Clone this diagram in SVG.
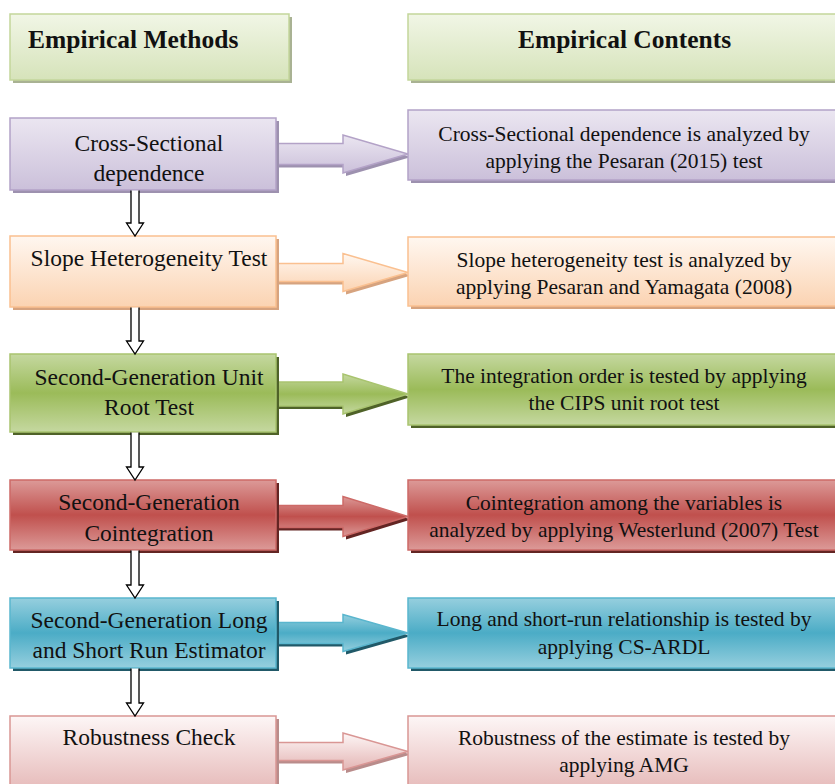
<svg xmlns="http://www.w3.org/2000/svg" width="835" height="784" viewBox="0 0 835 784">
  <defs>
    <linearGradient id="gHead" x1="0" y1="0" x2="0" y2="1">
      <stop offset="0" stop-color="#f1f6e6"/>
      <stop offset="1" stop-color="#d6e3ba"/>
    </linearGradient>
    <linearGradient id="gPur" x1="0" y1="0" x2="0" y2="1">
      <stop offset="0" stop-color="#ebe6f1"/>
      <stop offset="1" stop-color="#cbc0da"/>
    </linearGradient>
    <linearGradient id="gOra" x1="0" y1="0" x2="0" y2="1">
      <stop offset="0" stop-color="#fff7f0"/>
      <stop offset="1" stop-color="#fbd3b2"/>
    </linearGradient>
    <linearGradient id="gGrn" x1="0" y1="0" x2="0" y2="1">
      <stop offset="0" stop-color="#c5d8a0"/>
      <stop offset="0.5" stop-color="#9bbb59"/>
      <stop offset="1" stop-color="#c5d8a0"/>
    </linearGradient>
    <linearGradient id="gRed" x1="0" y1="0" x2="0" y2="1">
      <stop offset="0" stop-color="#dc9a98"/>
      <stop offset="0.5" stop-color="#c0504d"/>
      <stop offset="1" stop-color="#dc9a98"/>
    </linearGradient>
    <linearGradient id="gBlu" x1="0" y1="0" x2="0" y2="1">
      <stop offset="0" stop-color="#96cfde"/>
      <stop offset="0.5" stop-color="#4bacc6"/>
      <stop offset="1" stop-color="#96cfde"/>
    </linearGradient>
    <linearGradient id="gPnk" x1="0" y1="0" x2="0" y2="1">
      <stop offset="0" stop-color="#fdf6f6"/>
      <stop offset="1" stop-color="#e4b5b4"/>
    </linearGradient>
  </defs>
  <style>
    .t { font-family: "Liberation Serif", "Times New Roman", serif; fill: #111; }
    .l { font-size: 23.5px; text-anchor: middle; }
    .r { font-size: 21.5px; text-anchor: middle; }
    .h { font-size: 25.5px; font-weight: bold; }
    .head { fill: url(#gHead); stroke: #c3d69b; stroke-width: 1.5; }
    .headS { fill: #a9b293; }
    .pur { fill: url(#gPur); stroke: #b3a2c7; stroke-width: 1.5; }
    .purS { fill: #9d91af; }
    .ora { fill: url(#gOra); stroke: #fac090; stroke-width: 1.5; }
    .oraS { fill: #d6a37f; }
    .grn { fill: url(#gGrn); stroke: #a9c46f; stroke-width: 1.5; }
    .grnS { fill: #4f6228; }
    .red { fill: url(#gRed); stroke: #cd6a67; stroke-width: 1.5; }
    .redS { fill: #632523; }
    .blu { fill: url(#gBlu); stroke: #5ab6ce; stroke-width: 1.5; }
    .bluS { fill: #215968; }
    .pnk { fill: url(#gPnk); stroke: #d99694; stroke-width: 1.5; }
    .pnkS { fill: #b98c8b; }
    .down { fill: #ffffff; stroke: #000; stroke-width: 1.3; stroke-linejoin: miter; }
  </style>

  <!-- Horizontal connectors (drawn beneath boxes) -->
  <g id="h-connectors">
    <path class="purS" d="M277,146.5 L346,146.5 L346,138 L411,157 L346,176 L346,167.5 L277,167.5 Z"/>
    <path class="pur" d="M276,143.5 L343,143.5 L343,135 L408,154 L343,173 L343,164.5 L276,164.5 Z"/>

    <path class="oraS" d="M277,266.5 L346,266.5 L346,256.5 L411,275.5 L346,294.5 L346,284.5 L277,284.5 Z"/>
    <path class="ora" d="M276,263.5 L343,263.5 L343,253.5 L408,272.5 L343,291.5 L343,281.5 L276,281.5 Z"/>

    <path class="grnS" d="M277,385 L346,385 L346,377 L411,397 L346,417 L346,409 L277,409 Z"/>
    <path class="grn" d="M276,382 L343,382 L343,374 L408,394 L343,414 L343,406 L276,406 Z"/>

    <path class="redS" d="M277,508.5 L346,508.5 L346,499.5 L411,519.5 L346,539.5 L346,530.5 L277,530.5 Z"/>
    <path class="red" d="M276,505.5 L343,505.5 L343,496.5 L408,516.5 L343,536.5 L343,527.5 L276,527.5 Z"/>

    <path class="bluS" d="M277,625.5 L346,625.5 L346,617.5 L411,636 L346,654.5 L346,646.5 L277,646.5 Z"/>
    <path class="blu" d="M276,622.5 L343,622.5 L343,614.5 L408,633 L343,651.5 L343,643.5 L276,643.5 Z"/>

    <path class="pnkS" d="M277,745.5 L346,745.5 L346,736 L411,754.5 L346,773 L346,763.5 L277,763.5 Z"/>
    <path class="pnk" d="M276,742.5 L343,742.5 L343,733 L408,751.5 L343,770 L343,760.5 L276,760.5 Z"/>
  </g>

  <!-- Headers -->
  <g id="header-methods">
    <rect class="headS" x="13" y="17" width="279" height="66"/>
    <rect class="head" x="10" y="14" width="279" height="66"/>
    <text class="t h" x="28" y="48">Empirical Methods</text>
  </g>
  <g id="header-contents">
    <rect class="headS" x="411" y="17" width="440" height="66"/>
    <rect class="head" x="408" y="14" width="440" height="66"/>
    <text class="t h" x="624.5" y="48" text-anchor="middle">Empirical Contents</text>
  </g>

  <!-- Left nodes -->
  <g id="m1">
    <rect class="purS" x="13" y="121" width="266" height="72"/>
    <rect class="pur" x="10" y="118" width="266" height="72"/>
    <text class="t l" x="149" y="151">Cross-Sectional</text>
    <text class="t l" x="149" y="181">dependence</text>
  </g>
  <g id="m2">
    <rect class="oraS" x="13" y="239" width="266" height="71"/>
    <rect class="ora" x="10" y="236" width="266" height="71"/>
    <text class="t l" x="149" y="266">Slope Heterogeneity Test</text>
  </g>
  <g id="m3">
    <rect class="grnS" x="13" y="357" width="266" height="78"/>
    <rect class="grn" x="10" y="354" width="266" height="78"/>
    <text class="t l" x="149" y="385">Second-Generation Unit</text>
    <text class="t l" x="149" y="415">Root Test</text>
  </g>
  <g id="m4">
    <rect class="redS" x="13" y="483" width="266" height="70"/>
    <rect class="red" x="10" y="480" width="266" height="70"/>
    <text class="t l" x="149" y="510">Second-Generation</text>
    <text class="t l" x="149" y="541">Cointegration</text>
  </g>
  <g id="m5">
    <rect class="bluS" x="13" y="601" width="266" height="70"/>
    <rect class="blu" x="10" y="598" width="266" height="70"/>
    <text class="t l" x="149" y="628">Second-Generation Long</text>
    <text class="t l" x="149" y="658">and Short Run Estimator</text>
  </g>
  <g id="m6">
    <rect class="pnkS" x="13" y="719" width="266" height="80"/>
    <rect class="pnk" x="10" y="716" width="266" height="80"/>
    <text class="t l" x="149" y="745">Robustness Check</text>
  </g>

  <!-- Right nodes -->
  <g id="c1">
    <rect class="purS" x="411" y="113" width="440" height="70"/>
    <rect class="pur" x="408" y="110" width="440" height="70"/>
    <text class="t r" x="624" y="141">Cross-Sectional dependence is analyzed by</text>
    <text class="t r" x="624" y="168">applying the Pesaran (2015) test</text>
  </g>
  <g id="c2">
    <rect class="oraS" x="411" y="240" width="440" height="69"/>
    <rect class="ora" x="408" y="237" width="440" height="69"/>
    <text class="t r" x="624" y="267">Slope heterogeneity test is analyzed by</text>
    <text class="t r" x="624" y="294">applying Pesaran and Yamagata (2008)</text>
  </g>
  <g id="c3">
    <rect class="grnS" x="411" y="357" width="440" height="71"/>
    <rect class="grn" x="408" y="354" width="440" height="71"/>
    <text class="t r" x="624" y="383">The integration order is tested by applying</text>
    <text class="t r" x="624" y="410">the CIPS unit root test</text>
  </g>
  <g id="c4">
    <rect class="redS" x="411" y="483" width="440" height="70"/>
    <rect class="red" x="408" y="480" width="440" height="70"/>
    <text class="t r" x="624" y="510">Cointegration among the variables is</text>
    <text class="t r" x="624" y="537">analyzed by applying Westerlund (2007) Test</text>
  </g>
  <g id="c5">
    <rect class="bluS" x="411" y="601" width="440" height="70"/>
    <rect class="blu" x="408" y="598" width="440" height="70"/>
    <text class="t r" x="624" y="626">Long and short-run relationship is tested by</text>
    <text class="t r" x="624" y="654">applying CS-ARDL</text>
  </g>
  <g id="c6">
    <rect class="pnkS" x="411" y="719" width="440" height="80"/>
    <rect class="pnk" x="408" y="716" width="440" height="80"/>
    <text class="t r" x="624" y="745">Robustness of the estimate is tested by</text>
    <text class="t r" x="624" y="772">applying AMG</text>
  </g>

  <!-- Vertical connectors -->
  <g id="v-connectors">
    <path class="down" d="M131,190.5 L131,223 L126.5,223 L135,236 L143.5,223 L139,223 L139,190.5"/>
    <path class="down" d="M131,307.5 L131,341 L126.5,341 L135,354 L143.5,341 L139,341 L139,307.5"/>
    <path class="down" d="M131,432.5 L131,467 L126.5,467 L135,480 L143.5,467 L139,467 L139,432.5"/>
    <path class="down" d="M131,550.5 L131,585 L126.5,585 L135,598 L143.5,585 L139,585 L139,550.5"/>
    <path class="down" d="M131,668.5 L131,703 L126.5,703 L135,716 L143.5,703 L139,703 L139,668.5"/>
  </g>
</svg>
